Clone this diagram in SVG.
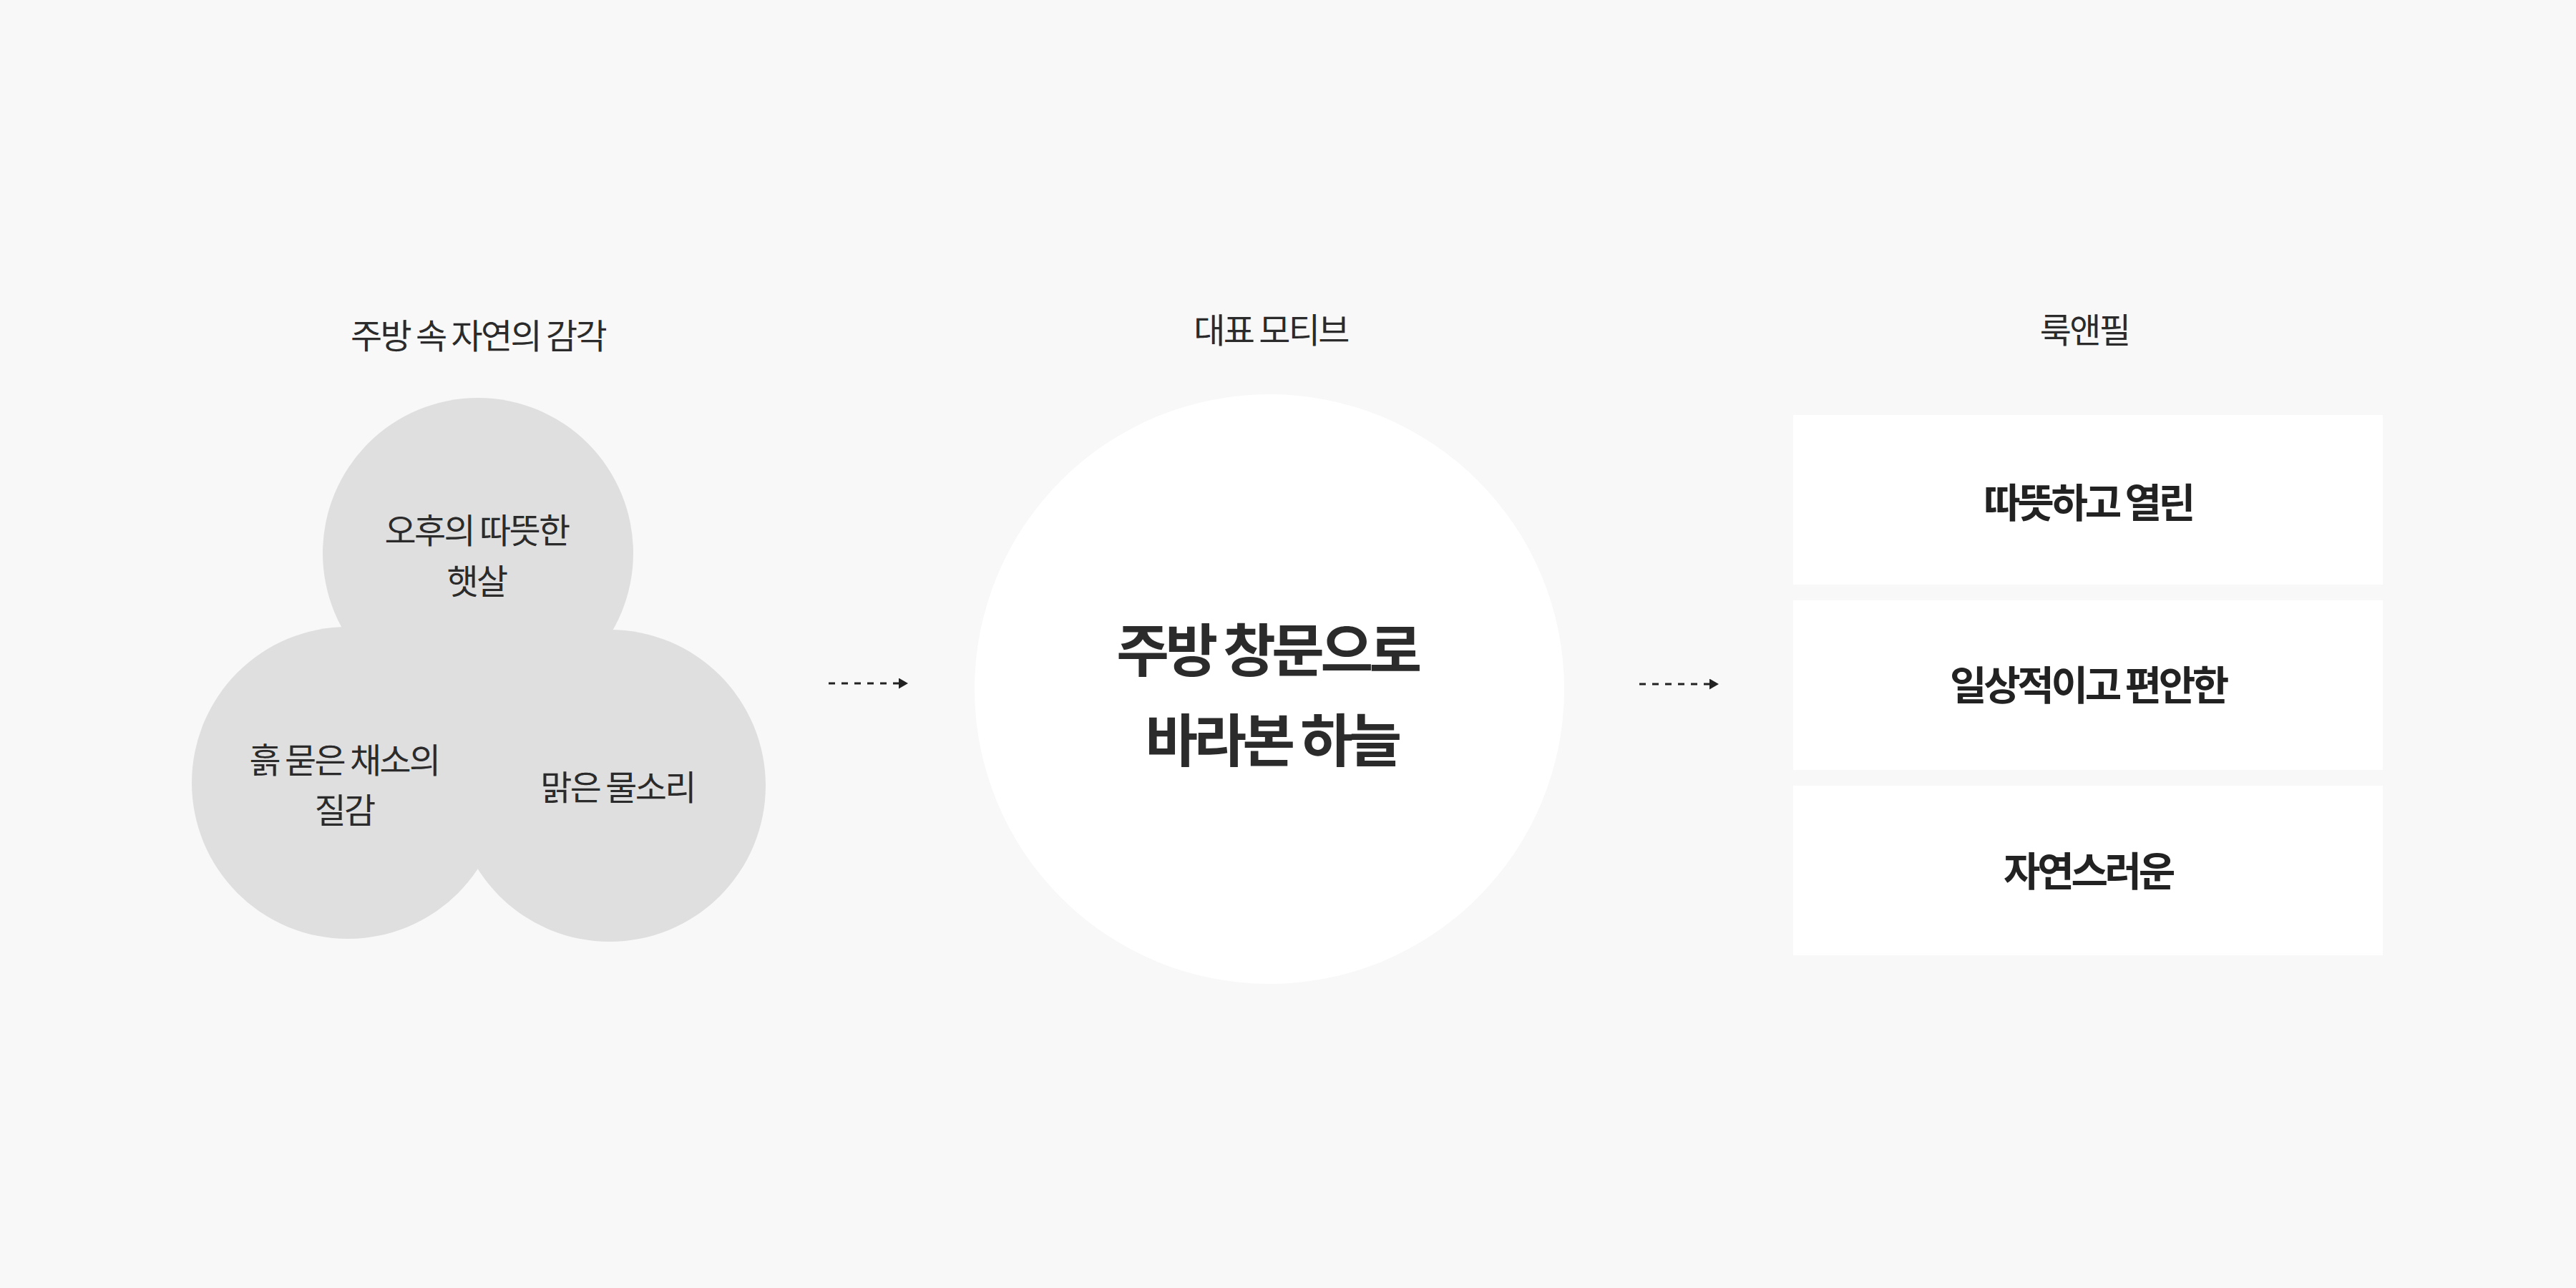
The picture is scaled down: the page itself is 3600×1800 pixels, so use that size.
<svg xmlns="http://www.w3.org/2000/svg" width="3600" height="1800" viewBox="0 0 3600 1800">
<style>
.lbl{font-family:"Noto Sans CJK KR","Noto Sans",sans-serif;font-size:48px;letter-spacing:-2.7px;fill:#2b2b2b;text-anchor:middle;dominant-baseline:central}
.big{font-family:"Noto Sans CJK KR","Noto Sans",sans-serif;font-size:80px;font-weight:700;letter-spacing:-5.5px;fill:#2b2b2b;text-anchor:middle;dominant-baseline:central}
.box{font-family:"Noto Sans CJK KR","Noto Sans",sans-serif;font-size:56px;font-weight:700;letter-spacing:-4.3px;fill:#222;text-anchor:middle;dominant-baseline:central}
.sense{fill:#dfdfdf}
.card{fill:#ffffff}
.conn{stroke:#222;stroke-width:3;stroke-dasharray:9 9;fill:none}
</style>
<defs>
<marker id="arr" viewBox="0 0 10 10" refX="0" refY="5" markerWidth="13" markerHeight="15" markerUnits="userSpaceOnUse" orient="auto" preserveAspectRatio="none">
<path d="M0,0 L10,5 L0,10 Z" fill="#222"/>
</marker>
</defs>
<rect width="3600" height="1800" fill="#f8f8f8"/>
<g id="title-senses"><text class="lbl" x="668" y="466">주방 속 자연의 감각</text></g>
<g id="title-motif"><text class="lbl" x="1776" y="458">대표 모티브</text></g>
<g id="title-lookfeel"><text class="lbl" x="2913" y="458">룩앤필</text></g>
<g id="sense-sunlight"><circle class="sense" cx="668" cy="773" r="217"/></g>
<g id="sense-soil"><circle class="sense" cx="486" cy="1094" r="218"/></g>
<g id="sense-water"><circle class="sense" cx="852" cy="1098" r="218"/></g>
<g id="sense-sunlight-label"><text class="lbl" x="666" y="738">오후의 따뜻한</text><text class="lbl" x="666" y="809">햇살</text></g>
<g id="sense-soil-label"><text class="lbl" x="481" y="1059">흙 묻은 채소의</text><text class="lbl" x="481" y="1129">질감</text></g>
<g id="sense-water-label"><text class="lbl" x="863" y="1097">맑은 물소리</text></g>
<g id="motif"><circle cx="1774" cy="963" r="412" fill="#ffffff"/><text class="big" x="1771" y="903">주방 창문으로</text><text class="big" x="1777" y="1029">바라본 하늘</text></g>
<g id="look-warm"><rect class="card" x="2506" y="580" width="824" height="237"/><text class="box" x="2918" y="698">따뜻하고 열린</text></g>
<g id="look-daily"><rect class="card" x="2506" y="839" width="824" height="237"/><text class="box" x="2918" y="953">일상적이고 편안한</text></g>
<g id="look-natural"><rect class="card" x="2506" y="1098" width="824" height="237"/><text class="box" x="2918" y="1213">자연스러운</text></g>
<g id="connectors">
<line class="conn" x1="1158" y1="955" x2="1256" y2="955" marker-end="url(#arr)"/>
<line class="conn" x1="2291" y1="956" x2="2389" y2="956" marker-end="url(#arr)"/>
</g>
</svg>
